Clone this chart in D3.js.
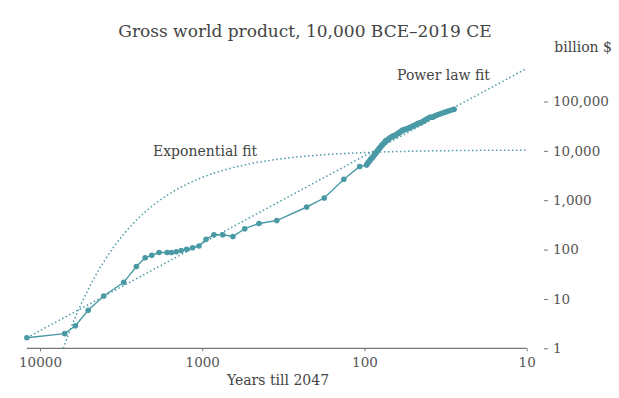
<!DOCTYPE html>
<html>
<head>
<meta charset="utf-8">
<script src="https://cdn.jsdelivr.net/npm/d3@7"></script>
<style>
  body { margin: 0; background: #fff; }
  text { font-family: "DejaVu Serif", "Liberation Serif", serif; }
</style>
</head>
<body>
<div id="chart"></div>
<script>
// years (negative = BCE) and gross world product, billion $
const years = [-10000, -5000, -4000, -3000, -2000, -1000, -500, -200, 1, 200, 400, 500, 600, 700, 800, 900,
  1000, 1100, 1200, 1300, 1400, 1500, 1600, 1700, 1820, 1870, 1913, 1940,
  1950, 1951, 1952, 1953, 1954, 1955, 1956, 1957, 1958, 1959, 1960, 1961, 1962, 1963, 1964, 1965, 1966, 1967, 1968, 1969,
  1970, 1971, 1972, 1973, 1974, 1975, 1976, 1977, 1978, 1979, 1980, 1981, 1982, 1983, 1984, 1985, 1986, 1987, 1988, 1989,
  1990, 1991, 1992, 1993, 1994, 1995, 1996, 1997, 1998, 1999, 2000, 2001, 2002, 2003, 2004, 2005, 2006, 2007, 2008, 2009,
  2010, 2011, 2012, 2013, 2014, 2015, 2016, 2017, 2018, 2019];
const gwp = [1.64, 1.98, 2.87, 5.89, 11.5, 21.7, 45.4, 68.4, 76.6, 87.3, 87.3, 87.0, 90.6, 95.8, 101, 108.7,
  118, 161, 200, 200, 184, 265, 338, 388, 729, 1109, 2654, 4820,
  5170, 5480, 5740, 6030, 6250, 6620, 6920, 7200, 7420, 7830, 8250, 8600, 9100, 9550, 10150, 10650, 11250, 11700, 12350, 13050,
  13650, 14200, 14950, 15900, 16300, 16500, 17300, 17950, 18700, 19350, 19750, 20150, 20350, 20900, 21850, 22600, 23400, 24300, 25400, 26250,
  26900, 27250, 27800, 28300, 29250, 30150, 31150, 32250, 33000, 34050, 35600, 36400, 37400, 38800, 40700, 42500, 44700, 46900, 48200, 48000,
  50500, 52600, 54400, 56300, 58400, 60500, 62600, 65000, 67400, 69600];

// fitted curves: [years till 2047, billion $]
const powerFit = [[12047, 1.64], [10, 468000]];
const expFit = [[7180, 1], [7000, 1.26], [6500, 2.4], [6000, 4.6], [5500, 8.7], [5000, 16.6], [4500, 31.6],
  [4000, 60], [3500, 115], [3000, 219], [2500, 418], [2000, 796], [1500, 1516], [1000, 2890],
  [700, 4260], [500, 5510], [300, 7130], [200, 8110], [100, 9230], [50, 9840], [20, 10230], [10, 10360]];

const xTicks = [10000, 1000, 100, 10];
const yTicks = [1, 10, 100, 1000, 10000, 100000];

const width = 619, height = 398;
const color = "#4a9aa6";

const data = years.map((yr, i) => ({ t: 2047 - yr, v: gwp[i] }));

const svg = d3.select("#chart")
  .append("svg")
  .attr("width", width)
  .attr("height", height);

const x = d3.scaleLog()
  .domain([10000, 10])
  .range([40, 526.7]);

const y = d3.scaleLog()
  .domain([1, 100000])
  .range([348.3, 101.5]);

// x axis
const xAxis = svg.append("g")
  .attr("transform", "translate(0,348.3)")
  .call(d3.axisBottom(x).tickValues(xTicks).tickFormat(d3.format("d")).tickSize(3).tickSizeOuter(0).tickPadding(6));
xAxis.select(".domain")
  .attr("d", `M${x(12047)},0H${x(10)}`)
  .attr("stroke", "#555");
xAxis.selectAll(".tick line").attr("stroke", "#777");
xAxis.selectAll(".tick text")
  .style("font-family", '"DejaVu Serif", serif')
  .style("font-size", "13.5px")
  .attr("fill", "#555");

// y axis on the right
const yAxis = svg.append("g")
  .attr("transform", "translate(543,0)")
  .call(d3.axisRight(y).tickValues(yTicks).tickFormat(d3.format(",")).tickSize(5).tickPadding(5));
yAxis.select(".domain").remove();
yAxis.selectAll(".tick line").attr("x1", 1).attr("stroke", "#777");
yAxis.selectAll(".tick text")
  .style("font-family", '"DejaVu Serif", serif')
  .style("font-size", "13.5px")
  .attr("fill", "#555");

// fits
const fitLine = d3.line()
  .x(d => x(d[0]))
  .y(d => y(d[1]))
  .curve(d3.curveMonotoneX);

svg.append("path")
  .datum(powerFit)
  .attr("d", fitLine)
  .attr("fill", "none")
  .attr("stroke", color)
  .attr("stroke-width", 1.5)
  .attr("stroke-dasharray", "1.5,2.5");

svg.append("path")
  .datum(expFit)
  .attr("d", fitLine)
  .attr("fill", "none")
  .attr("stroke", color)
  .attr("stroke-width", 1.5)
  .attr("stroke-dasharray", "1.5,2.5");

// data line and markers
svg.append("path")
  .datum(data)
  .attr("d", d3.line().x(d => x(d.t)).y(d => y(d.v)))
  .attr("fill", "none")
  .attr("stroke", color)
  .attr("stroke-width", 1.4);

svg.selectAll(".dot")
  .data(data)
  .enter()
  .append("circle")
  .attr("class", "dot")
  .attr("cx", d => x(d.t))
  .attr("cy", d => y(d.v))
  .attr("r", 2.8)
  .attr("fill", color);

// labels
svg.append("text")
  .attr("x", 305)
  .attr("y", 37)
  .attr("text-anchor", "middle")
  .attr("fill", "#444")
  .style("font-size", "17px")
  .text("Gross world product, 10,000 BCE\u20132019 CE");

svg.append("text")
  .attr("x", 612)
  .attr("y", 52)
  .attr("text-anchor", "end")
  .attr("fill", "#444")
  .style("font-size", "14px")
  .text("billion $");

svg.append("text")
  .attr("x", 490)
  .attr("y", 80)
  .attr("text-anchor", "end")
  .attr("fill", "#444")
  .style("font-size", "14px")
  .text("Power law fit");

svg.append("text")
  .attr("x", 153)
  .attr("y", 156)
  .attr("fill", "#444")
  .style("font-size", "14px")
  .text("Exponential fit");

svg.append("text")
  .attr("x", 278)
  .attr("y", 385)
  .attr("text-anchor", "middle")
  .attr("fill", "#444")
  .style("font-size", "14px")
  .text("Years till 2047");
</script>
</body>
</html>
